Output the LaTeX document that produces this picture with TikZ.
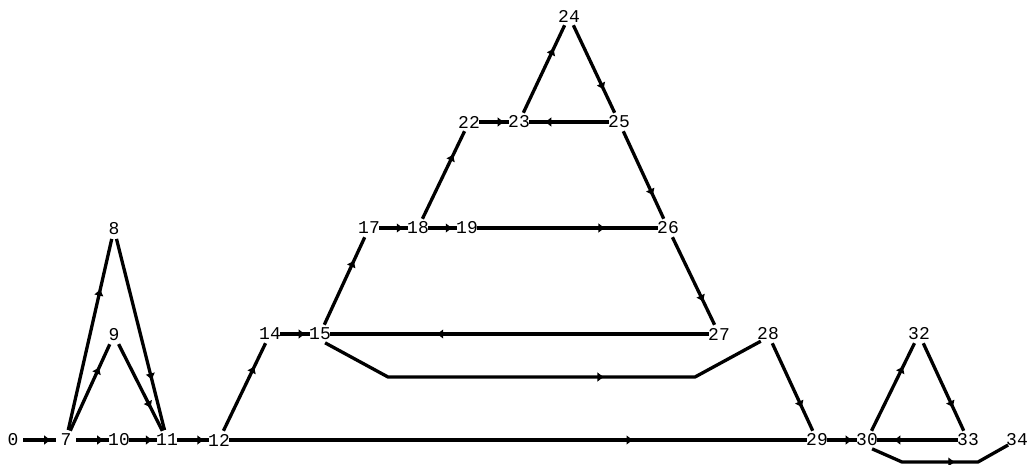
\documentclass[tikz,border=0pt]{standalone}
\usepackage{fontspec}
\setmonofont{Liberation Mono}
\usetikzlibrary{arrows.meta,decorations.markings}
\tikzset{
  v/.style={circle, inner sep=0pt, minimum size=20pt, font=\ttfamily\fontsize{18}{18}\selectfont},
  e/.style={line width=3.3pt, postaction={decorate},
    decoration={markings, mark=at position #1 with {\arrow{Latex[length=7pt,width=10pt]}}}},
  e/.default=0.74,
  es/.style={e=0.86}
}
\newcommand{\lbl}[1]{\makebox[0pt]{#1}}
\begin{document}
\begin{tikzpicture}[x=1pt,y=-1pt]
\useasboundingbox (0,0) rectangle (1033,465);
% nodes
\node[v] (n0)  at (13,440)  {\lbl{0}};
\node[v] (n7)  at (66,440)  {\lbl{7}};
\node[v] (n10) at (119,440) {\lbl{10}};
\node[v] (n11) at (167,440) {\lbl{11}};
\node[v] (n12) at (219,440) {\lbl{12}};
\node[v] (n8)  at (114,229) {\lbl{8}};
\node[v] (n9)  at (114,335) {\lbl{9}};
\node[v] (n14) at (270,334) {\lbl{14}};
\node[v] (n15) at (320,334) {\lbl{15}};
\node[v] (n17) at (369,228) {\lbl{17}};
\node[v] (n18) at (418,228) {\lbl{18}};
\node[v] (n19) at (467,228) {\lbl{19}};
\node[v] (n22) at (469,122) {\lbl{22}};
\node[v] (n23) at (519,122) {\lbl{23}};
\node[v] (n24) at (569,16)  {\lbl{24}};
\node[v] (n25) at (619,122) {\lbl{25}};
\node[v] (n26) at (668,228) {\lbl{26}};
\node[v] (n27) at (719,334) {\lbl{27}};
\node[v] (n28) at (768,334) {\lbl{28}};
\node[v] (n29) at (817,440) {\lbl{29}};
\node[v] (n30) at (867,440) {\lbl{30}};
\node[v] (n32) at (919,334) {\lbl{32}};
\node[v] (n33) at (968,440) {\lbl{33}};
\node[v] (n34) at (1017,440) {\lbl{34}};
% bend coordinates
\coordinate (b1) at (388,377);
\coordinate (b2) at (695,377);
\coordinate (b3) at (902,462);
\coordinate (b4) at (978,462);
% edges
\draw[es] (n0) -- (n7);
\draw[es] (n7) -- (n10);
\draw[es] (n10) -- (n11);
\draw[es] (n11) -- (n12);
\draw[e] (n7) -- (n8);
\draw[e] (n8) -- (n11);
\draw[e] (n7) -- (n9);
\draw[e] (n9) -- (n11);
\draw[e=0.74] (n12) -- (n14);
\draw[es] (n14) -- (n15);
\draw[e] (n15) -- (n17);
\draw[es] (n17) -- (n18);
\draw[es] (n18) -- (n19);
\draw[e] (n18) -- (n22);
\draw[es] (n22) -- (n23);
\draw[e] (n23) -- (n24);
\draw[e] (n24) -- (n25);
\draw[e=0.81] (n25) -- (n23);
\draw[e] (n25) -- (n26);
\draw[e=0.71] (n19) -- (n26);
\draw[e] (n26) -- (n27);
\draw[e=0.72] (n27) -- (n15);
\draw[e=0.635] (n15.-60) -- (b1) -- (b2) -- (n28.-135);
\draw[e] (n28) -- (n29);
\draw[e=0.7] (n12) -- (n29);
\draw[es] (n29) -- (n30);
\draw[e] (n30) -- (n32);
\draw[e] (n32) -- (n33);
\draw[e=0.8] (n33) -- (n30);
\draw[e=0.6] (n30.-60) -- (b3) -- (b4) -- (n34);
\end{tikzpicture}
\end{document}
